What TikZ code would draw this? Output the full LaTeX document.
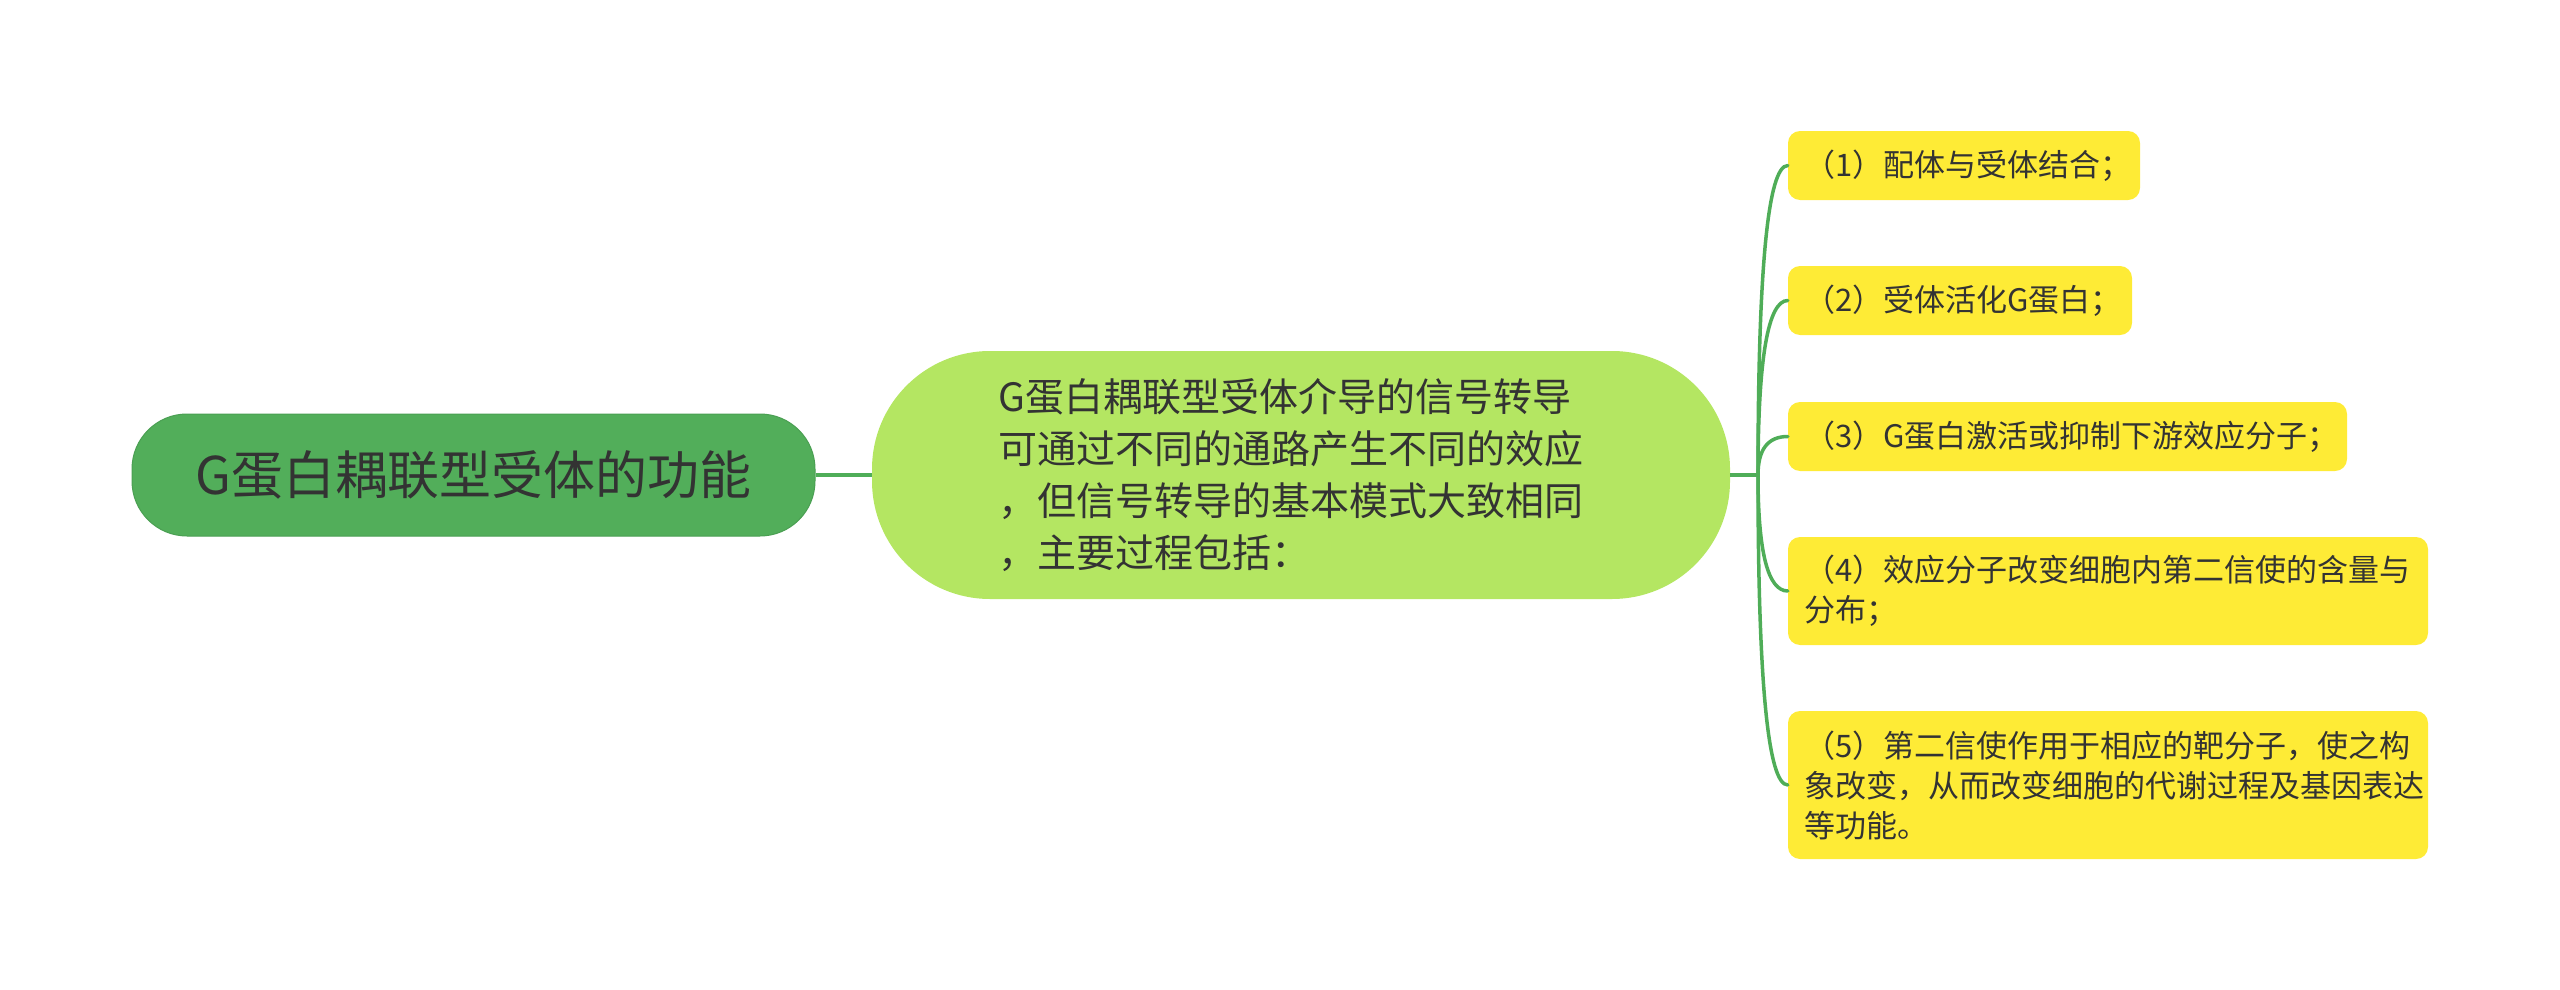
\documentclass[tikz,border=0pt]{standalone}
\usepackage{fontspec}
\setmainfont{Noto Sans CJK SC}
\usetikzlibrary{calc}
\definecolor{rootfill}{HTML}{52AE5A}
\definecolor{rootline}{HTML}{4A9F52}
\definecolor{midfill}{HTML}{B4E662}
\definecolor{leaffill}{HTML}{FEEB36}
\definecolor{conn}{HTML}{4FAD58}
\definecolor{txt}{HTML}{333333}
\begin{document}
\begin{tikzpicture}[x=1pt,y=-1pt,
  rootbox/.style={draw=rootline,line width=1pt,fill=rootfill,rounded corners=55pt,
    minimum width=683pt,minimum height=122pt,inner sep=0pt,text=txt,
    font=\fontsize{52}{60}\selectfont},
  midbox/.style={fill=midfill,rounded corners=118pt,text width=605pt,inner xsep=126.5pt,
    inner ysep=0pt,minimum height=248pt,align=left,text=txt,
    font=\fontsize{39}{52}\selectfont},
  leafbox/.style={fill=leaffill,rounded corners=12pt,inner xsep=16pt,inner ysep=0pt,
    align=left,text=txt,font=\fontsize{31}{40}\selectfont},
  link/.style={draw=conn,line width=4pt},
  branch/.style={draw=conn,line width=3.5pt,line cap=round}]
\useasboundingbox (0,0) rectangle (2560,990);
\node[rootbox] (root) at (473.5,475) {G蛋白耦联型受体的功能};
\node[midbox] (mid) at (1301,475) {G蛋白耦联型受体介导的信号转导\\可通过不同的通路产生不同的效应\\，但信号转导的基本模式大致相同\\，主要过程包括：};
\node[leafbox,text width=320pt,minimum height=69pt] (b1) at (1964,165.5) {（1）配体与受体结合；};
\node[leafbox,text width=312pt,minimum height=69pt] (b2) at (1960,300.5) {（2）受体活化G蛋白；};
\node[leafbox,text width=527pt,minimum height=69pt] (b3) at (2067.5,436.5) {（3）G蛋白激活或抑制下游效应分子；};
\node[leafbox,text width=608pt,minimum height=108pt] (b4) at (2108,591) {（4）效应分子改变细胞内第二信使的含量与\\分布；};
\node[leafbox,text width=608pt,minimum height=148pt] (b5) at (2108,785) {（5）第二信使作用于相应的靶分子，使之构\\象改变，从而改变细胞的代谢过程及基因表达\\等功能。};
\coordinate (hub) at (1758,475);
\draw[link] (root.east) -- (mid.west);
\draw[link] (mid.east) -- (hub);
\foreach \b in {b1,b2,b3,b4,b5}{
  \draw[branch] (hub) .. controls ($(hub)!0.6667!(hub|-\b.west)$) and ($(\b.west)!0.6667!(hub|-\b.west)$) .. (\b.west);
}
\end{tikzpicture}
\end{document}
